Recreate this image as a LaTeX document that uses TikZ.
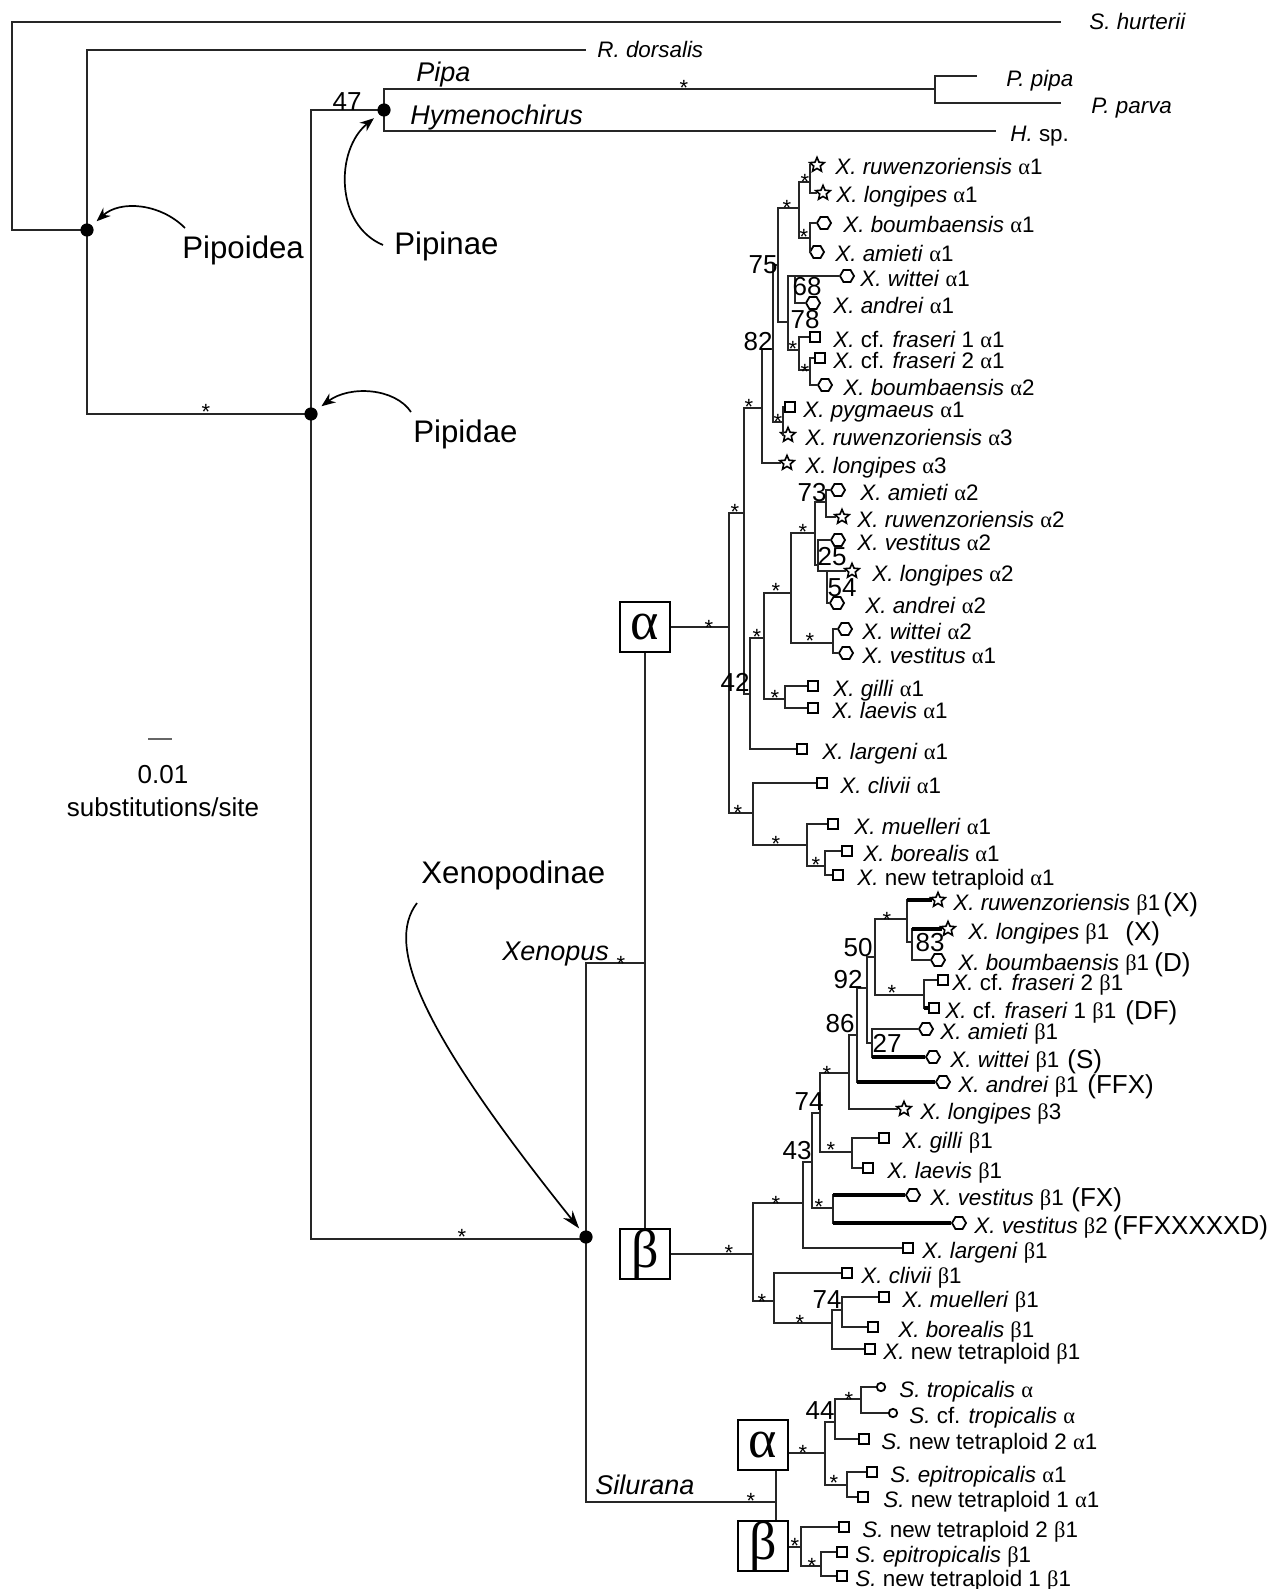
\documentclass[tikz,border=0pt]{standalone}
\usepackage{fontspec}
\setmainfont{Liberation Sans}
\newfontfamily\grk{Liberation Serif}
\usetikzlibrary{shapes.geometric,arrows.meta}
\newcommand\ga{{\grk α}}
\newcommand\gb{{\grk β}}
\newcommand\inode[4]{\coordinate (#1) at (#3,#4); \draw[br] (#2) |- (#1);}
\newcommand\leaf[7]{\node[#3] (#1) at (#4,#5) {}; \draw[br] (#2) |- (#1); \node[lab] (#1t) at (#6,#5) {#7};}
\newcommand\leafT[7]{\node[#3] (#1) at (#4,#5) {}; \draw[br] (#2) |- (#1); \draw[thk] (#2 |- #1) -- (#1); \node[lab] (#1t) at (#6,#5) {#7};}
\begin{document}
\begin{tikzpicture}[x=0.5pt,y=-0.5pt,
  br/.style={line width=0.65pt, draw=black!85},
  thk/.style={line width=2.2pt, draw=black},
  lab/.style={anchor=base west, inner sep=0pt, yshift=-5pt, font=\fontsize{11.2}{13}\selectfont},
  plab/.style={anchor=base west, inner sep=0pt, yshift=-5.5pt, font=\fontsize{13}{14}\selectfont},
  tlab/.style={anchor=base west, inner sep=0pt, font=\fontsize{11.2}{13}\selectfont},
  gen/.style={anchor=base west, inner sep=0pt, font=\fontsize{13.5}{14}\selectfont\itshape},
  clade/.style={anchor=base west, inner sep=0pt, font=\fontsize{15.6}{16}\selectfont},
  num/.style={inner sep=0pt, font=\fontsize{13}{13}\selectfont},
  ast/.style={inner sep=0pt, yshift=-2.5pt, font=\fontsize{11}{11}\selectfont},
  mbox/.style={draw, line width=0.9pt, rectangle, minimum size=5pt, inner sep=0pt, fill=white},
  mhex/.style={draw, line width=0.9pt, regular polygon, regular polygon sides=6, minimum size=7pt, inner sep=0pt, fill=white},
  mstar/.style={draw, line width=0.8pt, star, star points=5, star point ratio=2.2, minimum size=7.6pt, inner sep=0pt, fill=white},
  mcirc/.style={draw, line width=0.9pt, circle, minimum size=4.2pt, inner sep=0pt, fill=white},
  dot/.style={circle, fill=black, minimum size=6.6pt, inner sep=0pt},
  gbox/.style={draw, line width=1pt, minimum size=25pt, inner sep=0pt, font=\fontsize{27}{27}\selectfont\grk},
  arr/.style={line width=0.85pt, -{Stealth[length=7pt,width=5.5pt]}, shorten >=3pt},
  arr2/.style={line width=0.85pt, -{Stealth[length=9pt,width=6pt]}, shorten >=2pt}
]
\fill[white] (0,0) rectangle (1274,1589);
\useasboundingbox (0,0) rectangle (1274,1589);

% ---------- outgroups and backbone ----------
\coordinate (r0) at (12,230);
\coordinate (po) at (87,230);
\coordinate (hurT) at (1061,22);
\draw[br] (po) -- (r0) |- (hurT);
\node[tlab] (hur) at (1089,30) {\textit{S. hurterii}};
\coordinate (dorT) at (586,50);
\draw[br] (po) |- (dorT);
\node[tlab] (dor) at (597,58) {\textit{R. dorsalis}};
\coordinate (pd) at (311,414);
\draw[br] (po) |- (pd);
\coordinate (pn) at (384,110);
\draw[br] (pd) |- (pn);
\coordinate (pipa) at (935,89);
\draw[br] (pn) |- (pipa);
\coordinate (ppT) at (977,76);
\draw[br] (pipa) |- (ppT);
\coordinate (pvT) at (1061,103);
\draw[br] (pipa) |- (pvT);
\coordinate (hyT) at (996,131);
\draw[br] (pn) |- (hyT);
\node[tlab] (pp) at (1006,87) {\textit{P. pipa}};
\node[tlab] (pv) at (1091,114) {\textit{P. parva}};
\node[tlab] (hy) at (1010,142) {\textit{H.} sp.};
\node[gen] (gPipa) at (416,82) {Pipa};
\node[gen] (gHym) at (410,125) {Hymenochirus};
\node[num] (n47) at (347,102) {47};
\node[ast] (s01) at (684,83) {*};
\node[ast] (s02) at (206,407) {*};

\coordinate (xd) at (586,1239);
\draw[br] (pd) |- (xd);
\node[ast] (s03) at (462,1232) {*};

% ---------- Xenopus ----------
\coordinate (xen) at (645,963);
\draw[br] (xd) |- (xen);
\node[gen] (gXen) at (502,960) {Xenopus};
\node[ast] (s04) at (621,959) {*};
\node[gbox] (abx) at (645,627) {α};
\node[gbox] (bbx) at (645,1254) {β};
\draw[br] (xen) -- (abx.south);
\draw[br] (xen) -- (bbx.north);
\coordinate (XA) at (729,627);
\draw[br] (abx.east) -- (XA);
\node[ast] (s05) at (709,623) {*};
\coordinate (XB) at (753,1254);
\draw[br] (bbx.east) -- (XB);
\node[ast] (s06) at (729,1248) {*};

% alpha subtree
\inode{A1}{XA}{744}{513}
\inode{A2}{XA}{753}{813}
\inode{S1}{A1}{762}{408}
\inode{N42}{A1}{750}{694}
\inode{N82}{S1}{773}{349}
\leaf{la3}{S1}{mstar}{787}{463}{805}{\textit{X. longipes} \ga3}
\inode{N75}{N82}{778}{265}
\inode{NPy}{N82}{783}{422}
\inode{NRL}{N75}{799}{208}
\inode{N788}{N75}{788}{322}
\inode{NRL1}{NRL}{810}{182}
\inode{NBA}{NRL}{810}{238}
\leaf{ra1}{NRL1}{mstar}{817}{165}{835}{\textit{X. ruwenzoriensis} \ga1}
\leaf{la1}{NRL1}{mstar}{823}{193}{836}{\textit{X. longipes} \ga1}
\leaf{ba1}{NBA}{mhex}{824}{223}{843}{\textit{X. boumbaensis} \ga1}
\leaf{aa1}{NBA}{mhex}{817}{252}{835}{\textit{X. amieti} \ga1}
\inode{N68}{N788}{795}{276}
\inode{NS}{N788}{799}{350}
\leaf{wa1}{N68}{mhex}{847}{276}{860}{\textit{X. wittei} \ga1}
\leaf{an1}{N68}{mhex}{813}{303}{833}{\textit{X. andrei} \ga1}
\leaf{fa1}{NS}{mbox}{815}{337}{833}{\textit{X.} cf. \textit{fraseri} 1 \ga1}
\inode{NF2}{NS}{810}{370}
\leaf{fa2}{NF2}{mbox}{820}{358}{833}{\textit{X.} cf. \textit{fraseri} 2 \ga1}
\leaf{ba2}{NF2}{mhex}{825}{385}{843}{\textit{X. boumbaensis} \ga2}
\leaf{pa1}{NPy}{mbox}{790}{407}{803}{\textit{X. pygmaeus} \ga1}
\leaf{ra3}{NPy}{mstar}{788}{435}{805}{\textit{X. ruwenzoriensis} \ga3}
\inode{N764}{N42}{764}{638}
\leaf{lga1}{N42}{mbox}{802}{749}{822}{\textit{X. largeni} \ga1}
\inode{N791}{N764}{791}{593}
\inode{NGL}{N764}{785}{699}
\inode{N815}{N791}{815}{533}
\inode{NWV}{N791}{833}{643}
\inode{N73}{N815}{826}{502}
\inode{N25}{N815}{818}{565}
\leaf{aa2}{N73}{mhex}{838}{490}{860}{\textit{X. amieti} \ga2}
\leaf{ra2}{N73}{mstar}{842}{517}{857}{\textit{X. ruwenzoriensis} \ga2}
\leaf{va2}{N25}{mhex}{838}{540}{857}{\textit{X. vestitus} \ga2}
\inode{N54}{N25}{827}{571}
\leaf{la2}{N54}{mstar}{852}{571}{872}{\textit{X. longipes} \ga2}
\leaf{an2}{N54}{mhex}{837}{603}{865}{\textit{X. andrei} \ga2}
\leaf{wa2}{NWV}{mhex}{845}{629}{862}{\textit{X. wittei} \ga2}
\leaf{va1}{NWV}{mhex}{846}{653}{862}{\textit{X. vestitus} \ga1}
\leaf{ga1}{NGL}{mbox}{813}{686}{833}{\textit{X. gilli} \ga1}
\leaf{lva1}{NGL}{mbox}{813}{708}{832}{\textit{X. laevis} \ga1}
\leaf{ca1}{A2}{mbox}{822}{783}{840}{\textit{X. clivii} \ga1}
\inode{NM}{A2}{807}{845}
\leaf{ma1}{NM}{mbox}{833}{824}{854}{\textit{X. muelleri} \ga1}
\inode{NB}{NM}{825}{866}
\leaf{bo1}{NB}{mbox}{847}{851}{863}{\textit{X. borealis} \ga1}
\leaf{nt1}{NB}{mbox}{838}{875}{857}{\textit{X.} new tetraploid \ga1}

\node[ast] (s07) at (735,507) {*};
\node[ast] (s08) at (749,402) {*};
\node[ast] (s09) at (787,203) {*};
\node[ast] (s10) at (805,177) {*};
\node[ast] (s11) at (804,232) {*};
\node[ast] (s12) at (793,344) {*};
\node[ast] (s13) at (805,367) {*};
\node[ast] (s14) at (778,417) {*};
\node[ast] (s15) at (757,632) {*};
\node[ast] (s16) at (776,586) {*};
\node[ast] (s17) at (803,527) {*};
\node[ast] (s18) at (810,636) {*};
\node[ast] (s19) at (775,693) {*};
\node[ast] (s20) at (738,808) {*};
\node[ast] (s21) at (776,839) {*};
\node[ast] (s22) at (816,860) {*};
\node[num] (n75) at (763,265) {75};
\node[num] (n68) at (807,287) {68};
\node[num] (n78) at (805,320) {78};
\node[num] (n82) at (758,342) {82};
\node[num] (n73) at (812,493) {73};
\node[num] (n25) at (832,557) {25};
\node[num] (n54) at (842,588) {54};
\node[num] (n42) at (735,682) {42};

% beta subtree
\inode{B1}{XB}{803}{1203}
\inode{B2}{XB}{774}{1301}
\inode{N43}{B1}{812}{1162}
\leaf{lgb}{B1}{mbox}{908}{1248}{922}{\textit{X. largeni} \gb1}
\inode{N74}{N43}{820}{1113}
\inode{NV}{N43}{833}{1208}
\inode{NA}{N74}{849}{1073}
\inode{NGLb}{N74}{852}{1152}
\inode{N86}{NA}{857}{1035}
\leaf{lb3}{NA}{mstar}{904}{1109}{920}{\textit{X. longipes} \gb3}
\inode{N92}{N86}{867}{988}
\leafT{anb}{N86}{mhex}{943}{1082}{958}{\textit{X. andrei} \gb1}
\inode{N50}{N92}{875}{957}
\inode{N27}{N92}{872}{1043}
\inode{NR}{N50}{907}{919}
\inode{NFr}{N50}{924}{995}
\leafT{rb1}{NR}{mstar}{938}{900}{953}{\textit{X. ruwenzoriensis} \gb1}
\inode{N83}{NR}{912}{942}
\leafT{lb1}{N83}{mstar}{948}{929}{968}{\textit{X. longipes} \gb1}
\leaf{bb1}{N83}{mhex}{938}{960}{958}{\textit{X. boumbaensis} \gb1}
\leaf{fb2}{NFr}{mbox}{943}{980}{952}{\textit{X.} cf. \textit{fraseri} 2 \gb1}
\leafT{fb1}{NFr}{mbox}{934}{1008}{945}{\textit{X.} cf. \textit{fraseri} 1 \gb1}
\leaf{amb}{N27}{mhex}{926}{1029}{940}{\textit{X. amieti} \gb1}
\leafT{wb1}{N27}{mhex}{933}{1057}{950}{\textit{X. wittei} \gb1}
\leaf{gb1}{NGLb}{mbox}{884}{1138}{902}{\textit{X. gilli} \gb1}
\leaf{lvb}{NGLb}{mbox}{868}{1168}{887}{\textit{X. laevis} \gb1}
\leafT{vb1}{NV}{mhex}{913}{1195}{930}{\textit{X. vestitus} \gb1}
\leafT{vb2}{NV}{mhex}{959}{1223}{974}{\textit{X. vestitus} \gb2}
\leaf{cb1}{B2}{mbox}{847}{1273}{861}{\textit{X. clivii} \gb1}
\inode{NMb}{B2}{832}{1323}
\inode{N74b}{NMb}{842}{1310}
\leaf{ntb}{NMb}{mbox}{870}{1349}{883}{\textit{X.} new tetraploid \gb1}
\leaf{mb1}{N74b}{mbox}{884}{1297}{902}{\textit{X. muelleri} \gb1}
\leaf{bob}{N74b}{mbox}{873}{1327}{898}{\textit{X. borealis} \gb1}

\node[plab] (pX1) at (1163,900) {(X)};
\node[plab] (pX2) at (1125,929) {(X)};
\node[plab] (pD) at (1154,960) {(D)};
\node[plab] (pDF) at (1125,1008) {(DF)};
\node[plab] (pS) at (1067,1057) {(S)};
\node[plab] (pFFX) at (1087,1082) {(FFX)};
\node[plab] (pFX) at (1071,1195) {(FX)};
\node[plab] (pFFXD) at (1113,1223) {(FFXXXXXD)};

\node[ast] (s23) at (776,1199) {*};
\node[ast] (s24) at (819,1202) {*};
\node[ast] (s25) at (831,1145) {*};
\node[ast] (s26) at (827,1069) {*};
\node[ast] (s27) at (887,915) {*};
\node[ast] (s28) at (892,988) {*};
\node[ast] (s29) at (762,1297) {*};
\node[ast] (s30) at (800,1318) {*};
\node[num] (n50) at (858,948) {50};
\node[num] (n83) at (930,943) {83};
\node[num] (n92) at (848,980) {92};
\node[num] (n86) at (840,1024) {86};
\node[num] (n27) at (887,1043) {27};
\node[num] (n74a) at (809,1102) {74};
\node[num] (n43) at (797,1151) {43};
\node[num] (n74b) at (827,1300) {74};

% ---------- Silurana ----------
\coordinate (sil) at (776,1502);
\draw[br] (xd) |- (sil);
\node[gen] (gSil) at (595,1494) {Silurana};
\node[ast] (s31) at (751,1496) {*};
\node[gbox] (sabx) at (763,1445) {α};
\node[gbox] (sbbx) at (763,1546) {β};
\draw[br] (sabx.south -| sil) -- (sbbx.north -| sil);
\coordinate (SA) at (825,1453);
\draw[br] (sabx.east |- SA) -- (SA);
\coordinate (SB) at (801,1547);
\draw[br] (sbbx.east |- SB) -- (SB);
\inode{N44}{SA}{835}{1422}
\inode{NE}{SA}{847}{1485}
\inode{NT}{N44}{861}{1399}
\leaf{nt2a}{N44}{mbox}{864}{1439}{881}{\textit{S.} new tetraploid 2 \ga1}
\leaf{tra}{NT}{mcirc}{881}{1387}{899}{\textit{S. tropicalis} \ga}
\leaf{ctra}{NT}{mcirc}{893}{1413}{909}{\textit{S.} cf. \textit{tropicalis} \ga}
\leaf{epa}{NE}{mbox}{872}{1472}{890}{\textit{S. epitropicalis} \ga1}
\leaf{nt1a}{NE}{mbox}{863}{1497}{883}{\textit{S.} new tetraploid 1 \ga1}
\leaf{nt2b}{SB}{mbox}{844}{1527}{862}{\textit{S.} new tetraploid 2 \gb1}
\inode{NEb}{SB}{821}{1566}
\leaf{epb}{NEb}{mbox}{842}{1552}{855}{\textit{S. epitropicalis} \gb1}
\leaf{nt1b}{NEb}{mbox}{842}{1576}{855}{\textit{S.} new tetraploid 1 \gb1}
\node[ast] (s32) at (803,1448) {*};
\node[ast] (s33) at (849,1395) {*};
\node[ast] (s34) at (834,1478) {*};
\node[ast] (s35) at (795,1541) {*};
\node[ast] (s36) at (812,1561) {*};
\node[num] (n44) at (820,1411) {44};

% ---------- dots ----------
\node[dot] (dPo) at (po) {};
\node[dot] (dPd) at (pd) {};
\node[dot] (dPn) at (pn) {};
\node[dot] (dXd) at (586,1237) {};

% ---------- clade names and arrows ----------
\node[clade] (tPo) at (182,258) {Pipoidea};
\node[clade] (tPn) at (394,255) {Pipinae};
\node[clade] (tPd) at (413,442) {Pipidae};
\node[clade] (tXd) at (421,883) {Xenopodinae};
\coordinate (aPo) at (185,228);
\coordinate (aPn) at (383,245);
\coordinate (aPd) at (411,412);
\coordinate (aXd) at (417,903);
\draw[arr] (aPo) .. controls (160,203) and (120,200) .. (dPo);
\draw[arr] (aPn) .. controls (335,225) and (335,150) .. (dPn);
\draw[arr] (aPd) .. controls (395,388) and (350,385) .. (dPd);
\draw[arr2] (aXd) .. controls (385,945) and (420,1030) .. (dXd);

% ---------- scale bar ----------
\coordinate (sb1) at (148,739);
\coordinate (sb2) at (172,739);
\draw[line width=0.65pt, draw=black!60] (sb1) -- (sb2);
\node[anchor=base, inner sep=0pt, font=\fontsize{13}{14}\selectfont] (sbn) at (163,783) {0.01};
\node[anchor=base, inner sep=0pt, font=\fontsize{13}{14}\selectfont] (sbt) at (163,816) {substitutions/site};
\end{tikzpicture}
\end{document}
